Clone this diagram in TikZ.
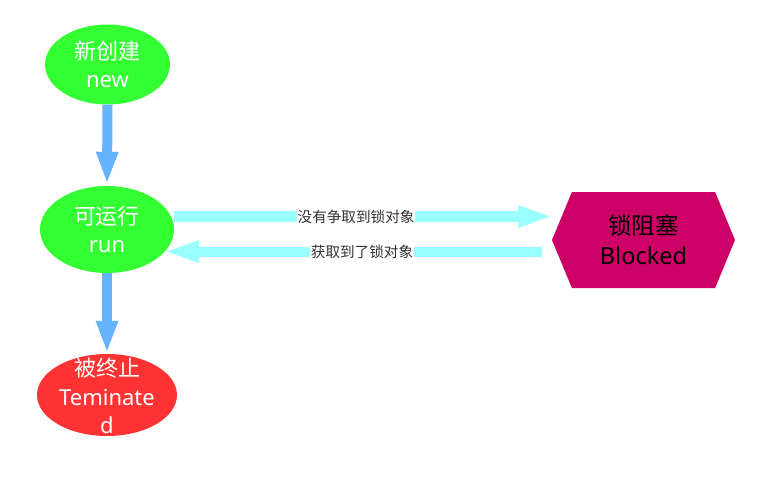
\documentclass[tikz,border=0pt]{standalone}
\usepackage{fontspec}
\setmainfont{Noto Sans}
\newfontfamily\zh{Noto Sans CJK SC}
\usetikzlibrary{shapes.geometric,shapes.symbols,arrows.meta}
\definecolor{stgreen}{HTML}{33FF33}
\definecolor{stred}{HTML}{FF3333}
\definecolor{stblue}{HTML}{66B3FF}
\definecolor{stcyan}{HTML}{99FFFF}
\definecolor{stmag}{HTML}{CC0066}
\definecolor{lbltext}{HTML}{333333}
\begin{document}
\begin{tikzpicture}[x=1pt,y=-1pt,
  state/.style={ellipse,inner sep=0pt,draw=none},
  wtxt/.style={text=white,font=\fontsize{22}{28.5}\selectfont,align=center},
  btxt/.style={text=black,font=\fontsize{23.5}{30}\selectfont,align=center},
  downarrow/.style={draw=stblue,line width=10pt,-{Triangle[width=23pt,length=30pt,line width=0pt]}},
  sidearrow/.style={draw=stcyan,line width=10.5pt,-{Triangle[width=23pt,length=32pt,line width=0pt]}},
  lbl/.style={fill=white,text=lbltext,font=\zh\fontsize{14.6}{16}\selectfont,inner sep=1pt}
]
\useasboundingbox (0,0) rectangle (780,483);
\fill[white] (0,0) rectangle (780,483);

\node[state,fill=stgreen,minimum width=125pt,minimum height=80pt,
  label={[wtxt]center:{\zh 新创建}\\new}] (new) at (107.5,64.5) {};
\node[state,fill=stgreen,minimum width=134pt,minimum height=87pt,
  label={[wtxt]center:{\zh 可运行}\\run}] (run) at (107,229.5) {};
\node[state,fill=stred,minimum width=140pt,minimum height=82pt,
  label={[wtxt,yshift=-1pt]center:{\zh 被终止}\\Teminate\\d}] (term) at (107,395) {};
\node[signal,signal to=east and west,signal pointer angle=135,
  minimum width=183pt,minimum height=96pt,inner sep=0pt,fill=stmag,
  label={[btxt]center:{\zh 锁阻塞}\\Blocked}] (blk) at (643.5,240) {};

\coordinate (a1) at (550,216.5);
\coordinate (b1) at (542,251.5);
\coordinate (b2) at (167,251.5);

\draw[downarrow,shorten >=4pt] (new.south) -- (run.north);
\draw[downarrow,shorten >=3pt] (run.south) -- (term.north);
\draw[sidearrow] (run.east |- a1) -- node[lbl,pos=0.484] {没有争取到锁对象} (a1);
\draw[sidearrow,line width=10pt] (b1) -- node[lbl,pos=0.48] {获取到了锁对象} (b2);
\end{tikzpicture}
\end{document}
